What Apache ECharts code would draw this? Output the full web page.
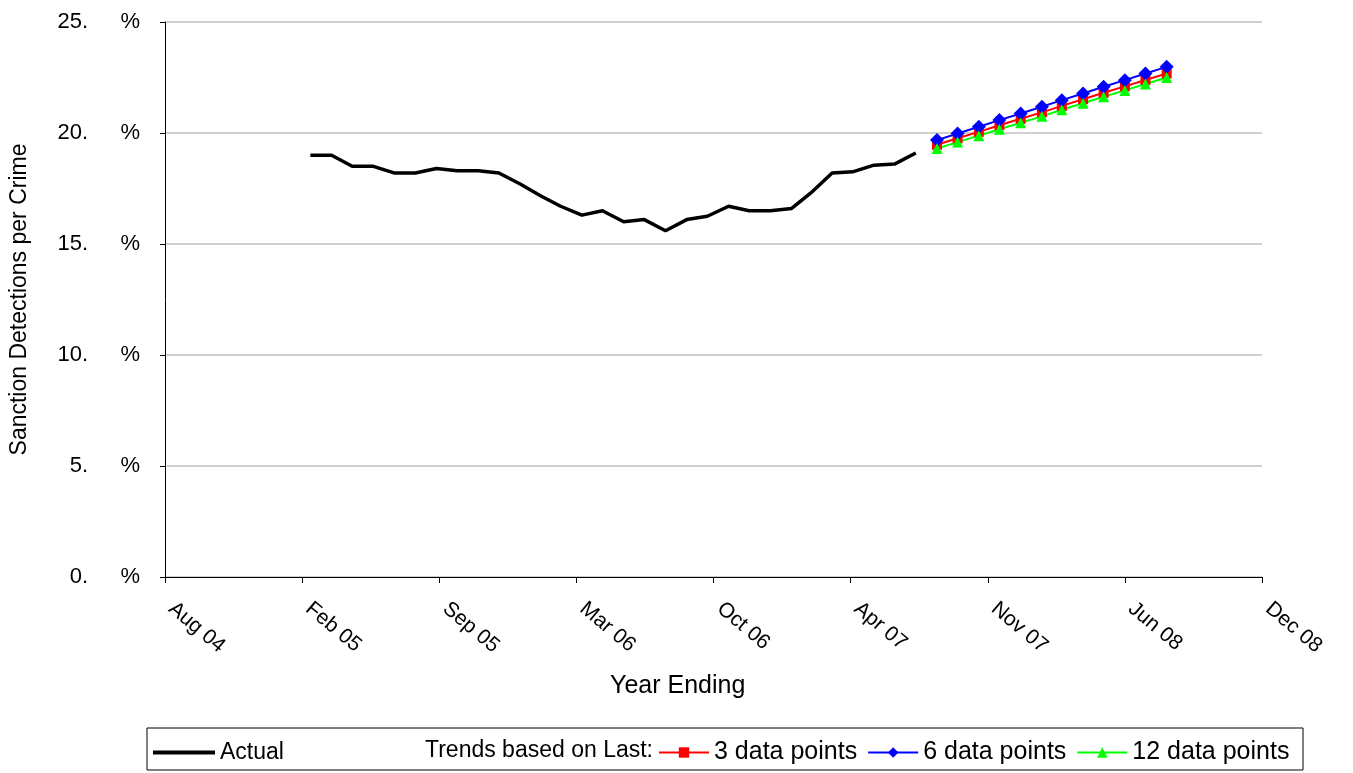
<!DOCTYPE html>
<html>
<head>
<meta charset="utf-8">
<script src="https://cdn.jsdelivr.net/npm/echarts@6/dist/echarts.min.js"></script>
<style>html,body{margin:0;padding:0;background:#fff;}#chart{width:1353px;height:773px;}</style>
</head>
<body>
<div id="chart"></div>
<script>
// ---- data ----
var axisStart = '2004-08';
var tickLabels = ['Aug 04','Feb 05','Sep 05','Mar 06','Oct 06','Apr 07','Nov 07','Jun 08','Dec 08'];
var actualMonths = ['2005-03','2005-04','2005-05','2005-06','2005-07','2005-08','2005-09','2005-10','2005-11','2005-12',
  '2006-01','2006-02','2006-03','2006-04','2006-05','2006-06','2006-07','2006-08','2006-09','2006-10','2006-11','2006-12',
  '2007-01','2007-02','2007-03','2007-04','2007-05','2007-06','2007-07','2007-08'];
var actualValues = [19.0,19.0,18.5,18.5,18.2,18.2,18.4,18.3,18.3,18.2,
  17.7,17.15,16.7,16.3,16.5,16.0,16.1,15.6,16.1,16.25,16.7,16.5,
  16.5,16.6,17.3,18.2,18.25,18.55,18.6,19.1];
var trendMonths = ['2007-09','2007-10','2007-11','2007-12','2008-01','2008-02','2008-03','2008-04','2008-05','2008-06','2008-07','2008-08'];
var trend3 = [19.47,19.76,20.05,20.35,20.64,20.93,21.22,21.52,21.81,22.10,22.39,22.68];
var trend6 = [19.68,19.98,20.28,20.58,20.88,21.18,21.48,21.78,22.08,22.38,22.68,22.98];
var trend12 = [19.30,19.59,19.88,20.17,20.46,20.75,21.05,21.34,21.63,21.92,22.21,22.50];

function dayOf(m) {
  var p = m.split('-'), s = axisStart.split('-');
  return (Date.UTC(+p[0], +p[1] - 1, 1) - Date.UTC(+s[0], +s[1] - 1, 1)) / 86400000;
}
function pairs(months, vals) { return months.map(function (m, i) { return [dayOf(m), vals[i]]; }); }

var FONT = '"Liberation Sans", Arial, sans-serif';
var chart = echarts.init(document.getElementById('chart'));
chart.setOption({
  backgroundColor: '#fff',
  animation: false,
  textStyle: { fontFamily: FONT, color: '#000' },
  grid: { left: 165, right: 91, top: 22, bottom: 196, containLabel: false },
  title: { text: 'Year Ending', left: 605, top: 669, textStyle: { fontFamily: FONT, fontSize: 25, fontWeight: 'normal', color: '#000' } },
  xAxis: {
    type: 'value', min: 0, max: 1600, interval: 200,
    axisLine: { show: true, lineStyle: { color: '#000', width: 1 } },
    axisTick: { show: true, length: 6, lineStyle: { color: '#000' } },
    splitLine: { show: false },
    axisLabel: {
      rotate: -40, margin: 24, fontSize: 21, fontFamily: FONT, color: '#000',
      padding: [0, 0, 0, 8],
      showMaxLabel: true, showMinLabel: true,
      formatter: function (v) { return tickLabels[Math.round(v / 200)] || ''; }
    }
  },
  yAxis: {
    type: 'value', min: 0, max: 25, interval: 5,
    name: 'Sanction Detections per Crime', nameLocation: 'middle', nameRotate: 90, nameGap: 134,
    nameTextStyle: { fontFamily: FONT, fontSize: 23, color: '#000' },
    axisLine: { show: true, lineStyle: { color: '#000', width: 1 } },
    axisTick: { show: true, length: 5, lineStyle: { color: '#000' } },
    splitLine: { show: true, lineStyle: { color: '#C0C0C0', width: 1.5 } },
    axisLabel: {
      margin: 25, fontFamily: FONT, fontSize: 22, color: '#000',
      formatter: function (v) { return '{n|' + v + '.}{p|%}'; },
      rich: {
        n: { fontFamily: FONT, fontSize: 22, color: '#000', align: 'right' },
        p: { fontFamily: FONT, fontSize: 22, color: '#000', width: 52, align: 'right' }
      }
    }
  },
  legend: [
    {
      data: [{ name: 'Actual', icon: 'rect' }], left: 153, top: 741, padding: 0, itemWidth: 62, itemHeight: 4, itemGap: 10,
      textStyle: { fontFamily: FONT, fontSize: 23, color: '#000' }
    },
    {
      data: ['3 data points', '6 data points', '12 data points'], left: 658, top: 740, padding: 0,
      itemWidth: 50, itemHeight: 13, itemGap: 10,
      textStyle: { fontFamily: FONT, fontSize: 25, color: '#000' }
    }
  ],
  graphic: [
    { type: 'rect', z: -1, shape: { x: 147, y: 728, width: 1156, height: 42 }, style: { fill: '#fff', stroke: '#000', lineWidth: 1 } },
    { type: 'text', left: 425, top: 739, style: { text: 'Trends based on Last:', font: '23px "Liberation Sans", Arial, sans-serif', fill: '#000' } }
  ],
  series: [
    { name: 'Actual', type: 'line', data: pairs(actualMonths, actualValues), showSymbol: false, symbol: 'none',
      lineStyle: { color: '#000', width: 3.5 }, itemStyle: { color: '#000' } },
    { name: '3 data points', type: 'line', data: pairs(trendMonths, trend3), symbol: 'rect', symbolSize: 10,
      lineStyle: { color: '#FF0000', width: 2 }, itemStyle: { color: '#FF0000' } },
    { name: '6 data points', type: 'line', data: pairs(trendMonths, trend6), symbol: 'diamond', symbolSize: 14,
      lineStyle: { color: '#0000FF', width: 2 }, itemStyle: { color: '#0000FF' } },
    { name: '12 data points', type: 'line', data: pairs(trendMonths, trend12), symbol: 'triangle', symbolSize: 11,
      lineStyle: { color: '#00FF00', width: 2 }, itemStyle: { color: '#00FF00' } }
  ]
});
</script>
</body>
</html>
